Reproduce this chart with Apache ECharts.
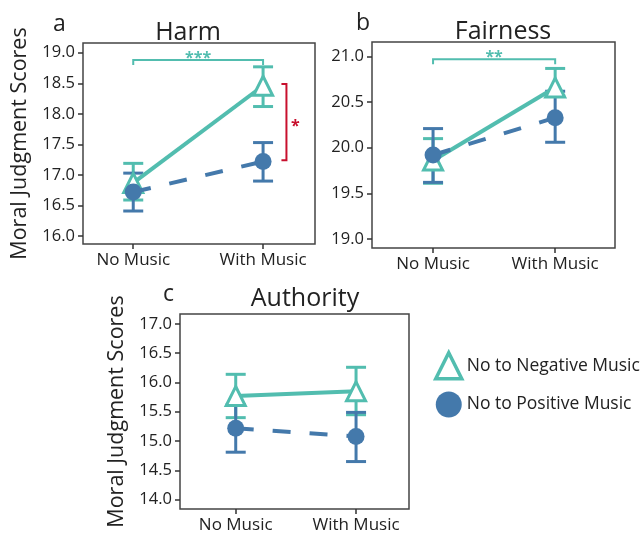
<!DOCTYPE html>
<html><head><meta charset="utf-8">
<script src="https://cdn.jsdelivr.net/npm/echarts@6/dist/echarts.min.js"></script>
<style>html,body{margin:0;padding:0;background:#fff}#c{width:644px;height:535px}</style>
</head><body><div id="c"></div>
<script>
// ---- data ----
const categories = ['No Music', 'With Music'];
const seriesNames = ['No to Negative Music', 'No to Positive Music'];

const harmNeg = [16.87, 18.46];
const harmNegLo = [16.59, 18.12];
const harmNegHi = [17.19, 18.77];
const harmPos = [16.72, 17.22];
const harmPosLo = [16.41, 16.90];
const harmPosHi = [17.03, 17.53];

const fairNeg = [19.86, 20.66];
const fairNegLo = [19.61, 20.57];
const fairNegHi = [20.10, 20.87];
const fairPos = [19.92, 20.33];
const fairPosLo = [19.62, 20.06];
const fairPosHi = [20.21, 20.62];

const authNeg = [15.77, 15.85];
const authNegLo = [15.40, 15.45];
const authNegHi = [16.14, 16.26];
const authPos = [15.22, 15.08];
const authPosLo = [14.81, 14.65];
const authPosHi = [15.62, 15.49];

const harmTicks = [16.0, 16.5, 17.0, 17.5, 18.0, 18.5, 19.0];
const fairTicks = [19.0, 19.5, 20.0, 20.5, 21.0];
const authTicks = [14.0, 14.5, 15.0, 15.5, 16.0, 16.5, 17.0];

const panelTitles = ['Harm', 'Fairness', 'Authority'];
const panelLetters = ['a', 'b', 'c'];
const yTitle = 'Moral Judgment Scores';

// significance annotations: [fromX, toX, y, label]
const harmTopBracket = [1, 2, 18.88, '***'];
const fairTopBracket = [1, 2, 20.97, '**'];
// vertical bracket: [x, fromY, toY, label]
const harmSideBracket = [2.18, 17.24, 18.49, '*'];

// ---- styles ----
const TEAL = '#52BDAF';
const BLUE = '#4479AB';
const RED = '#C8102E';
const TXT = '#222';
const FONT = '"Open Sans", "DejaVu Sans", sans-serif';

const catX = [1, 2];
const pts = (vals) => vals.map((v, i) => [catX[i], v]);
const errs = (lo, hi) => lo.map((l, i) => [catX[i], l, hi[i]]);

const grids = [
  { left: 83, top: 43, width: 232, height: 201 },
  { left: 372, top: 42, width: 243, height: 206 },
  { left: 180, top: 314, width: 229, height: 195 }
];
const xRanges = [[0.613, 2.4], [0.5, 2.49], [0.537, 2.44]];
const yRanges = [[15.87, 19.16], [18.9, 21.16], [13.84, 17.17]];
const yTickSets = [harmTicks, fairTicks, authTicks];

const xAxis = grids.map((g, i) => ({
  type: 'value', gridIndex: i, min: xRanges[i][0], max: xRanges[i][1],
  splitLine: { show: false }, axisLine: { show: false },
  axisTick: { show: true, customValues: catX, length: 5, lineStyle: { color: '#333', width: 1.5 } },
  axisLabel: { customValues: catX, formatter: v => categories[Math.round(v) - 1] || '',
    fontSize: 17, color: TXT, fontFamily: FONT, margin: 8 }
}));
const yAxis = grids.map((g, i) => ({
  type: 'value', gridIndex: i, min: yRanges[i][0], max: yRanges[i][1],
  splitLine: { show: false }, axisLine: { show: false },
  axisTick: { show: true, customValues: yTickSets[i], length: 5, lineStyle: { color: '#333', width: 1.5 } },
  axisLabel: { customValues: yTickSets[i], formatter: v => v.toFixed(1),
    fontSize: 16.5, color: TXT, fontFamily: FONT, margin: 8 },
  name: i === 1 ? '' : yTitle, nameLocation: 'middle', nameGap: 52,
  nameTextStyle: { fontSize: 21.5, color: TXT, fontFamily: FONT }
}));

function errSeries(idx, data, color) {
  return {
    type: 'custom', xAxisIndex: idx, yAxisIndex: idx, z: 2, silent: true,
    data: data, encode: { x: 0, y: [1, 2] },
    renderItem: (params, api) => {
      const x = api.value(0);
      const a = api.coord([x, api.value(1)]);
      const b = api.coord([x, api.value(2)]);
      const hw = 10, st = { stroke: color, lineWidth: 3 };
      return { type: 'group', children: [
        { type: 'line', shape: { x1: a[0], y1: a[1], x2: b[0], y2: b[1] }, style: st },
        { type: 'line', shape: { x1: a[0] - hw, y1: a[1], x2: a[0] + hw, y2: a[1] }, style: st },
        { type: 'line', shape: { x1: b[0] - hw, y1: b[1], x2: b[0] + hw, y2: b[1] }, style: st }
      ]};
    }
  };
}
function lineSeries(idx, name, data, neg) {
  return {
    type: 'line', name: name, xAxisIndex: idx, yAxisIndex: idx, z: neg ? 3 : 4,
    data: data, silent: true,
    symbol: neg ? 'triangle' : 'circle', symbolSize: neg ? 19 : 17,
    lineStyle: neg ? { color: TEAL, width: 4 } : { color: BLUE, width: 4, type: [18, 19] },
    itemStyle: neg ? { color: '#fff', borderColor: TEAL, borderWidth: 3 } : { color: BLUE, borderWidth: 0 },
    color: neg ? TEAL : BLUE
  };
}
function topBracket(idx, br, color) {
  return {
    type: 'custom', xAxisIndex: idx, yAxisIndex: idx, z: 5, silent: true,
    data: [br.slice(0, 3)], encode: { x: [0, 1], y: 2 },
    renderItem: (params, api) => {
      const p1 = api.coord([api.value(0), api.value(2)]);
      const p2 = api.coord([api.value(1), api.value(2)]);
      return { type: 'group', children: [
        { type: 'polyline', shape: { points: [[p1[0], p1[1] + 5], [p1[0], p1[1]], [p2[0], p2[1]], [p2[0], p2[1] + 5]] },
          style: { stroke: color, lineWidth: 2, fill: null } },
        { type: 'text', x: (p1[0] + p2[0]) / 2, y: p1[1] - 2,
          style: { text: br[3], fill: color, font: 'bold 16px ' + FONT, align: 'center', verticalAlign: 'middle' } }
      ]};
    }
  };
}
function sideBracket(idx, br, color) {
  return {
    type: 'custom', xAxisIndex: idx, yAxisIndex: idx, z: 5, silent: true,
    data: [br.slice(0, 3)], encode: { x: 0, y: [1, 2] },
    renderItem: (params, api) => {
      const p1 = api.coord([api.value(0), api.value(1)]);
      const p2 = api.coord([api.value(0), api.value(2)]);
      return { type: 'group', children: [
        { type: 'polyline', shape: { points: [[p1[0] - 5, p1[1]], [p1[0], p1[1]], [p2[0], p2[1]], [p2[0] - 5, p2[1]]] },
          style: { stroke: color, lineWidth: 2, fill: null } },
        { type: 'text', x: p1[0] + 9, y: (p1[1] + p2[1]) / 2 + 4,
          style: { text: br[3], fill: color, font: 'bold 16px ' + FONT, align: 'center', verticalAlign: 'middle' } }
      ]};
    }
  };
}

const series = [
  errSeries(0, errs(harmNegLo, harmNegHi), TEAL),
  errSeries(0, errs(harmPosLo, harmPosHi), BLUE),
  lineSeries(0, seriesNames[0], pts(harmNeg), true),
  lineSeries(0, seriesNames[1], pts(harmPos), false),
  topBracket(0, harmTopBracket, TEAL),
  sideBracket(0, harmSideBracket, RED),

  errSeries(1, errs(fairNegLo, fairNegHi), TEAL),
  errSeries(1, errs(fairPosLo, fairPosHi), BLUE),
  lineSeries(1, seriesNames[0], pts(fairNeg), true),
  lineSeries(1, seriesNames[1], pts(fairPos), false),
  topBracket(1, fairTopBracket, TEAL),

  errSeries(2, errs(authNegLo, authNegHi), TEAL),
  errSeries(2, errs(authPosLo, authPosHi), BLUE),
  lineSeries(2, seriesNames[0], pts(authNeg), true),
  lineSeries(2, seriesNames[1], pts(authPos), false)
];

const titles = [
  { text: panelTitles[0], left: 188, top: 20 },
  { text: panelTitles[1], left: 503, top: 19.5 },
  { text: panelTitles[2], left: 305, top: 286 }
].map(t => ({ text: t.text, left: t.left, top: t.top, textAlign: 'center', padding: 0,
  textStyle: { fontSize: 25, fontWeight: 'normal', color: TXT, fontFamily: FONT } }));
const letters = [
  { left: 53, top: 13 }, { left: 356, top: 12 }, { left: 163, top: 283 }
].map((p, i) => ({ text: panelLetters[i], left: p.left, top: p.top, padding: 0,
  textStyle: { fontSize: 23, fontWeight: 'normal', color: TXT, fontFamily: FONT } }));

const chart = echarts.init(document.getElementById('c'), null, { renderer: 'canvas' });
chart.setOption({
  animation: false,
  backgroundColor: '#fff',
  title: titles.concat(letters),
  grid: grids.map(g => Object.assign({ show: true, borderColor: '#444', borderWidth: 1.5, backgroundColor: 'transparent' }, g)),
  xAxis: xAxis,
  yAxis: yAxis,
  legend: {
    orient: 'vertical', left: 434, top: 351, itemGap: 11, itemWidth: 26, itemHeight: 26,
    selectedMode: false, padding: 0,
    textStyle: { fontSize: 17.5, color: TXT, fontFamily: FONT },
    data: [
      { name: seriesNames[0], icon: 'triangle', itemStyle: { color: '#fff', borderColor: TEAL, borderWidth: 3.5 } },
      { name: seriesNames[1], icon: 'circle', itemStyle: { color: BLUE, borderWidth: 0 } }
    ]
  },
  series: series
});
</script></body></html>
